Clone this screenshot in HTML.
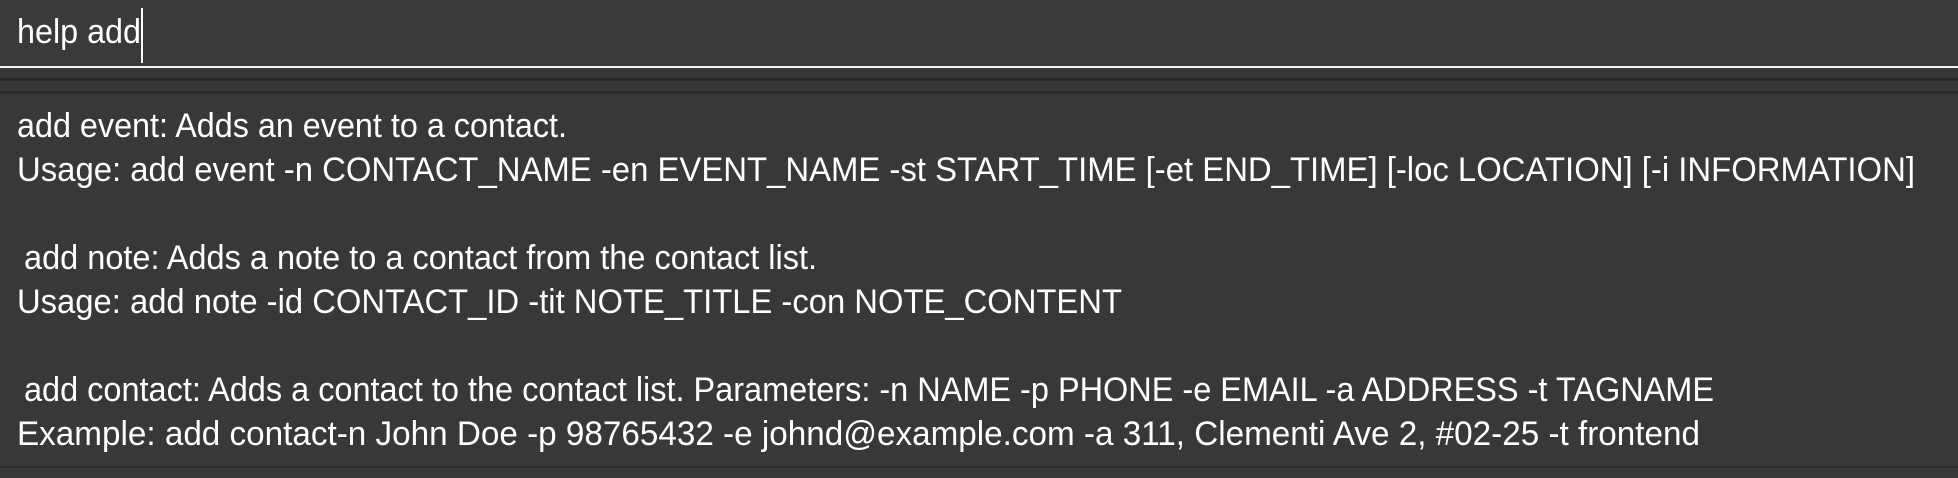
<!DOCTYPE html>
<html><head><style>
html,body{margin:0;padding:0;background:#383838;width:1958px;height:478px;overflow:hidden}
svg{display:block}
text{font-family:"Liberation Sans",sans-serif;font-size:34px;fill:#fff}
</style></head><body>
<svg width="1958" height="478" xmlns="http://www.w3.org/2000/svg">
<rect x="0" y="0" width="1958" height="478" fill="#383838"/>
<rect x="0" y="0" width="1958" height="66" fill="#3a3a3a"/>
<rect x="0" y="66" width="1958" height="2" fill="#f2f2f2"/>
<rect x="0" y="78" width="1958" height="3" fill="#2a2a2a"/>
<rect x="0" y="91" width="1958" height="3" fill="#2a2a2a"/>
<rect x="0" y="466" width="1958" height="2" fill="#2c2c2c"/>
<text x="17" y="43" textLength="124" lengthAdjust="spacingAndGlyphs">help add</text>
<rect x="141" y="8" width="2" height="55" fill="#fff"/>
<text x="17" y="137" textLength="550" lengthAdjust="spacingAndGlyphs">add event: Adds an event to a contact.</text>
<text x="17" y="181" textLength="1898" lengthAdjust="spacingAndGlyphs">Usage:  add event -n CONTACT_NAME -en EVENT_NAME -st START_TIME [-et END_TIME] [-loc LOCATION] [-i INFORMATION]</text>
<text x="24" y="269" textLength="793" lengthAdjust="spacingAndGlyphs">add note: Adds a note to a contact from the contact list.</text>
<text x="17" y="313" textLength="1105" lengthAdjust="spacingAndGlyphs">Usage:  add note -id CONTACT_ID -tit NOTE_TITLE -con NOTE_CONTENT</text>
<text x="24" y="401" textLength="1690" lengthAdjust="spacingAndGlyphs">add contact: Adds a contact to the contact list. Parameters: -n NAME -p PHONE -e EMAIL -a ADDRESS -t TAGNAME</text>
<text x="17" y="445" textLength="1683" lengthAdjust="spacingAndGlyphs">Example: add contact-n John Doe -p 98765432 -e johnd@example.com -a 311, Clementi Ave 2, #02-25 -t frontend</text>
</svg>
</body></html>
